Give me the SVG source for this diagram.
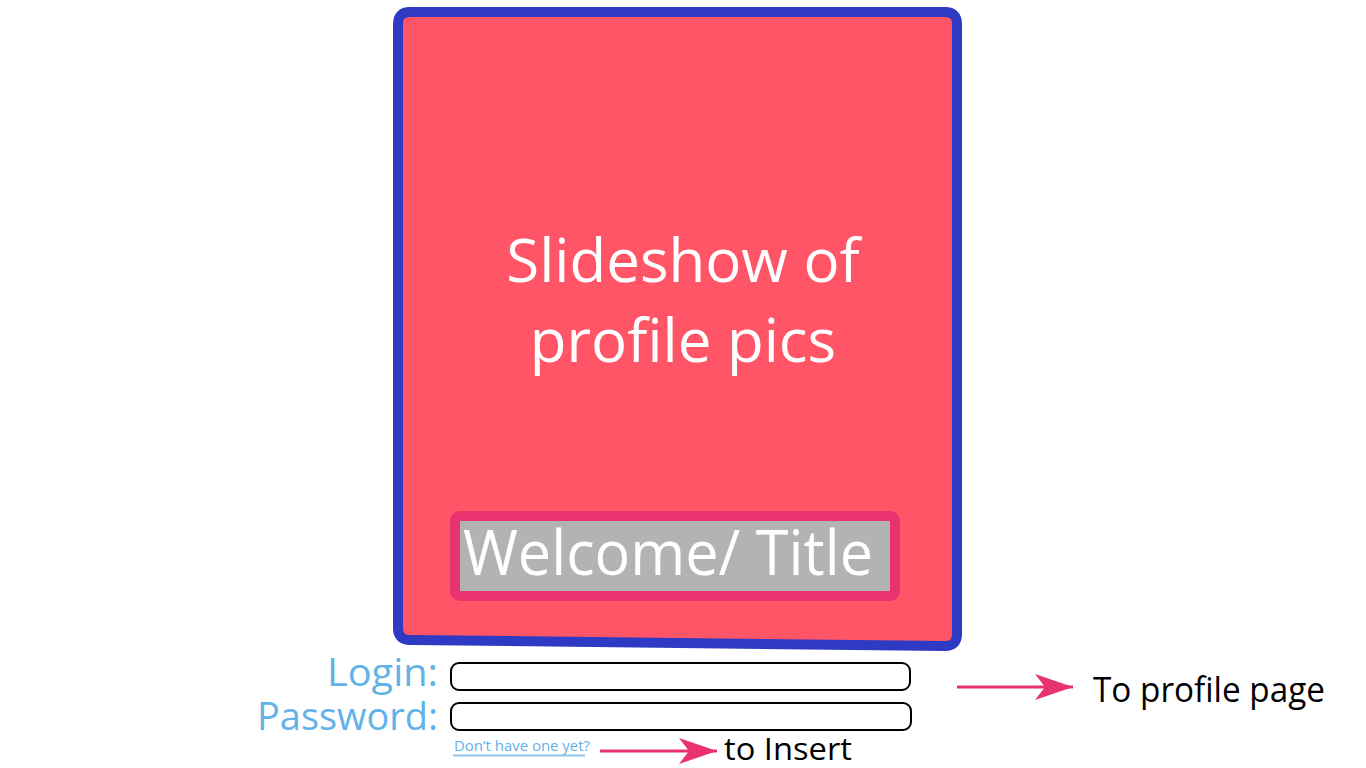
<svg xmlns="http://www.w3.org/2000/svg" width="1366" height="768" viewBox="0 0 1366 768">
  <style>
    .sans { font-family: "Open Sans", "Noto Sans", "Liberation Sans", sans-serif; }
    .white { fill: #ffffff; }
    .blue-label { fill: #62B2E8; }
    .dark { fill: #000000; }
    .field { fill: #ffffff; stroke: #000000; stroke-width: 2; }
    .link { stroke: #E8336F; stroke-width: 3; fill: none; }
  </style>
  <defs>
    <marker id="head" markerUnits="userSpaceOnUse" markerWidth="40" markerHeight="30" refX="38" refY="13" orient="auto">
      <path d="M0,0 L38,13 L0,26 L10,13 Z" fill="#E8336F"/>
    </marker>
  </defs>
  <rect width="1366" height="768" fill="#ffffff"/>

  <!-- slideshow panel -->
  <g id="slideshow">
    <path d="M410,12 L945,12 Q957,12 957,24 L957,634 Q957,646 945,646 L410,640 Q398,640 398,628 L398,24 Q398,12 410,12 Z" fill="#FF5566" stroke="#2E3AC4" stroke-width="10" stroke-linejoin="round"/>
    <text class="sans white" x="683" y="282" font-size="60" text-anchor="middle">Slideshow of</text>
    <text class="sans white" x="683" y="362" font-size="60" text-anchor="middle">profile pics</text>
  </g>

  <!-- welcome banner -->
  <g id="welcome">
    <rect x="455" y="516" width="440" height="80" rx="5" fill="#B3B3B3" stroke="#E8336F" stroke-width="10"/>
    <text class="sans white" x="463" y="575" font-size="62" textLength="410" lengthAdjust="spacingAndGlyphs">Welcome/ Title</text>
  </g>

  <!-- login form -->
  <g id="login">
    <text class="sans blue-label" x="438" y="686" font-size="39" text-anchor="end" textLength="111" lengthAdjust="spacingAndGlyphs">Login:</text>
    <rect class="field" x="451" y="663" width="459" height="27" rx="8"/>
  </g>
  <g id="password">
    <text class="sans blue-label" x="438" y="730" font-size="39" text-anchor="end" textLength="181" lengthAdjust="spacingAndGlyphs">Password:</text>
    <rect class="field" x="451" y="703" width="460" height="27" rx="8"/>
  </g>
  <g id="signup">
    <text class="sans blue-label" x="454" y="751" font-size="14" textLength="136" lengthAdjust="spacingAndGlyphs">Don’t have one yet?</text>
    <line x1="453" y1="755.5" x2="585" y2="755.5" stroke="#8CC6EE" stroke-width="2"/>
  </g>

  <!-- destinations -->
  <g id="profile-page">
    <text class="sans dark" x="1093" y="702" font-size="35" textLength="232" lengthAdjust="spacingAndGlyphs">To profile page</text>
  </g>
  <g id="insert">
    <text class="sans dark" x="724" y="760" font-size="31" textLength="128" lengthAdjust="spacingAndGlyphs">to Insert</text>
  </g>

  <!-- connectors -->
  <g id="connectors">
    <line class="link" x1="957" y1="687" x2="1073" y2="687" marker-end="url(#head)"/>
    <line class="link" x1="600" y1="751" x2="717" y2="751" marker-end="url(#head)"/>
  </g>
</svg>
